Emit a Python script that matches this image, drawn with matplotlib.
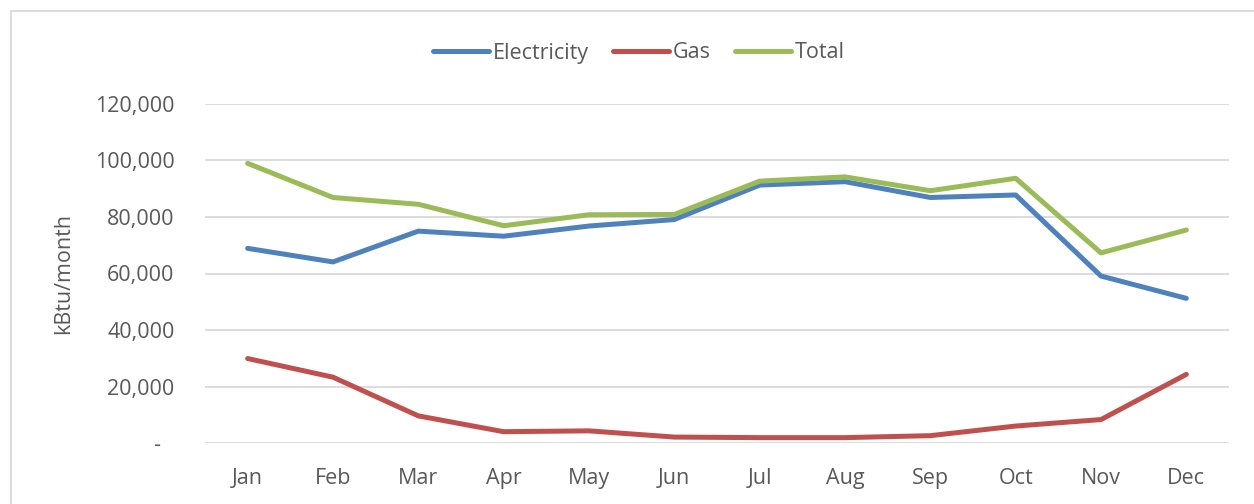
import matplotlib
matplotlib.use("Agg")
import matplotlib.pyplot as plt
from matplotlib.patches import Rectangle
from matplotlib.ticker import FuncFormatter
from matplotlib.transforms import ScaledTranslation

months = ["Jan", "Feb", "Mar", "Apr", "May", "Jun", "Jul", "Aug", "Sep", "Oct", "Nov", "Dec"]
electricity = [68900, 64100, 75000, 73200, 76800, 79100, 91300, 92500, 86900, 87800, 59100, 51200]
gas = [29900, 23300, 9600, 4000, 4300, 2100, 1900, 1900, 2600, 6000, 8300, 24300]
total = [99000, 86900, 84500, 76900, 80800, 80900, 92700, 94200, 89300, 93700, 67300, 75400]
yticks = [0, 20000, 40000, 60000, 80000, 100000, 120000]

plt.rcParams['font.family'] = ['Open Sans', 'DejaVu Sans']
text_color = '#595959'
fs = 15.5

fig = plt.figure(figsize=(12.54, 5.04), dpi=100)
W, H = 1254, 504
# outer chart frame
fig.patches.append(Rectangle((11 / W, -0.1), 1.2, (H - 11) / H + 0.1, transform=fig.transFigure,
                             fill=False, edgecolor='#D9D9D9', linewidth=1.3))

ax = fig.add_axes([205 / W, 61 / H, 1024 / W, 339 / H])
x = list(range(len(months)))
ax.plot(x, electricity, color='#4F81BD', lw=3.6, solid_capstyle='round', solid_joinstyle='round', label='Electricity')
ax.plot(x, gas, color='#C0504D', lw=3.6, solid_capstyle='round', solid_joinstyle='round', label='Gas')
ax.plot(x, total, color='#9BBB59', lw=3.6, solid_capstyle='round', solid_joinstyle='round', label='Total')

ax.set_xlim(-0.5, 11.5)
ax.set_ylim(0, 120000)
ax.set_yticks(yticks)
ax.yaxis.set_major_formatter(FuncFormatter(lambda v, p: '-' if v == 0 else f'{int(v):,}'))
ax.set_xticks(x)
ax.set_xticklabels(months)
ax.grid(axis='y', color='#D9D9D9', linewidth=1.3)
ax.set_axisbelow(True)
for s in ax.spines.values():
    s.set_visible(False)
ax.tick_params(axis='both', length=0, labelsize=fs, colors=text_color)
ax.tick_params(axis='y', pad=22)
ax.tick_params(axis='x', pad=18)
ax.set_ylabel('kBtu/month', fontsize=fs, color=text_color, labelpad=15)

fig.canvas.draw()
zero_lbl = ax.get_yticklabels()[0]
zero_lbl.set_transform(zero_lbl.get_transform() + ScaledTranslation(-14 / 100, 0, fig.dpi_scale_trans))

fig.legend(loc='center', bbox_to_anchor=(639 / W, 1 - 53 / H), ncol=3, frameon=False,
           fontsize=fs, labelcolor=text_color, handlelength=2.6, handletextpad=0.2,
           columnspacing=1.1)

fig.savefig('out.png', dpi=100)
